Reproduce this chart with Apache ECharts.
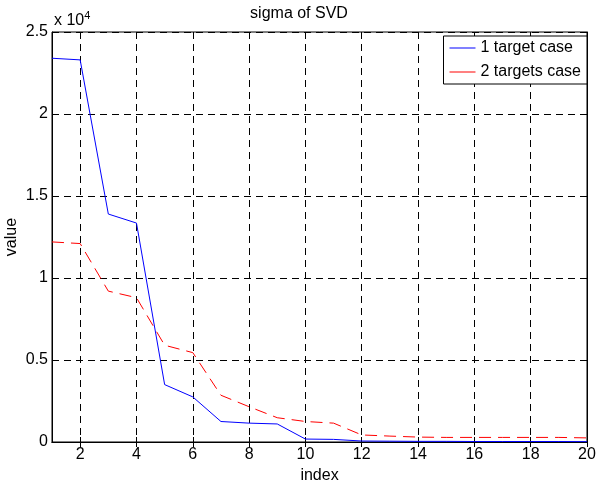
<!DOCTYPE html>
<html>
<head>
<meta charset="utf-8">
<script src="https://cdn.jsdelivr.net/npm/echarts@6/dist/echarts.min.js"></script>
<style>
  html, body { margin: 0; padding: 0; background: #fff; }
  #chart { width: 598px; height: 481px; }
</style>
</head>
<body>
<div id="chart"></div>
<script>
// index 1..20
var indexes = [1,2,3,4,5,6,7,8,9,10,11,12,13,14,15,16,17,18,19,20];
// (units of 1)
var oneTarget = [23400, 23300, 13900, 13350, 3500, 2750, 1250, 1150, 1100, 180,
                 160, 60, 50, 40, 40, 30, 30, 30, 30, 20];
var twoTargets = [12200, 12100, 9200, 8800, 5900, 5450, 2850, 2150, 1480, 1250,
                  1150, 430, 360, 300, 280, 280, 280, 280, 280, 250];
var yTicks = [0, 5000, 10000, 15000, 20000, 25000];

var FONT = '"Liberation Sans", Arial, Helvetica, sans-serif';
var chart = echarts.init(document.getElementById('chart'));

function even(i, v) { return Number(v) % 2 === 0; }

var option = {
  animation: false,
  backgroundColor: '#fff',
  textStyle: { fontFamily: FONT },
  title: {
    text: 'sigma of SVD',
    left: 'center', top: 1,
    textStyle: { fontSize: 16, fontWeight: 'normal', color: '#000', fontFamily: FONT }
  },
  grid: {
    left: 52, right: 11, top: 32, bottom: 39,
    outerBoundsMode: 'none',
    show: true, borderColor: '#000', borderWidth: 1
  },
  legend: {
    orient: 'vertical',
    right: 11, top: 36,
    backgroundColor: '#fff',
    borderColor: '#000', borderWidth: 1,
    padding: [3, 6, 3, 6],
    itemGap: 6,
    icon: 'rect',
    itemWidth: 26, itemHeight: 1,
    textStyle: { fontSize: 16, color: '#000', fontFamily: FONT, lineHeight: 18 },
    data: ['1 target case', '2 targets case']
  },
  graphic: [{
    type: 'text', left: 54, top: 10,
    style: {
      text: '{a|x 10}{b|4}',
      rich: {
        a: { fontSize: 16, fontFamily: FONT, fill: '#000' },
        b: { fontSize: 11, fontFamily: FONT, fill: '#000', verticalAlign: 'top', padding: [0, 0, 10, 0] }
      }
    }
  }],
  xAxis: [{
    type: 'category', data: indexes, boundaryGap: false,
    name: 'index', nameLocation: 'middle', nameGap: 18,
    nameTextStyle: { fontSize: 16, color: '#000', fontFamily: FONT },
    axisLine: { lineStyle: { color: '#000', width: 1 } },
    axisTick: { inside: true, length: 5, interval: even, lineStyle: { color: '#000' } },
    axisLabel: { interval: even, fontSize: 16, color: '#000', margin: 5, fontFamily: FONT },
    splitLine: { show: true, interval: even, lineStyle: { color: '#000', type: [7, 5], width: 1 } }
  }, {
    type: 'category', data: indexes, boundaryGap: false, position: 'top',
    axisLine: { lineStyle: { color: '#000', width: 1 } },
    axisTick: { inside: true, length: 5, interval: even, lineStyle: { color: '#000' } },
    axisLabel: { show: false },
    splitLine: { show: false }
  }],
  yAxis: [{
    type: 'value', min: 0, max: 25000, interval: 5000,
    name: 'value', nameLocation: 'middle', nameGap: 32, nameRotate: 90,
    nameMoveOverlap: false,
    nameTextStyle: { fontSize: 16, color: '#000', fontFamily: FONT },
    axisLine: { show: true, lineStyle: { color: '#000', width: 1 } },
    axisTick: { show: true, inside: true, length: 5, lineStyle: { color: '#000' } },
    axisLabel: {
      fontSize: 16, color: '#000', margin: 4, fontFamily: FONT,
      formatter: function (v) { return yTicks.indexOf(v) >= 0 ? String(v / 10000) : ''; }
    },
    splitLine: { show: true, lineStyle: { color: '#000', type: [7, 5], width: 1 } }
  }, {
    type: 'value', min: 0, max: 25000, interval: 5000, position: 'right',
    axisLine: { show: true, lineStyle: { color: '#000', width: 1 } },
    axisTick: { show: true, inside: true, length: 5, lineStyle: { color: '#000' } },
    axisLabel: { show: false },
    splitLine: { show: false }
  }],
  series: [{
    name: '1 target case', type: 'line', data: oneTarget,
    symbol: 'none', color: '#0000ff',
    lineStyle: { color: '#0000ff', width: 1 }
  }, {
    name: '2 targets case', type: 'line', data: twoTargets,
    symbol: 'none', color: '#ff0000',
    lineStyle: { color: '#ff0000', width: 1, type: [12, 7] }
  }]
};

chart.setOption(option);
</script>
</body>
</html>
